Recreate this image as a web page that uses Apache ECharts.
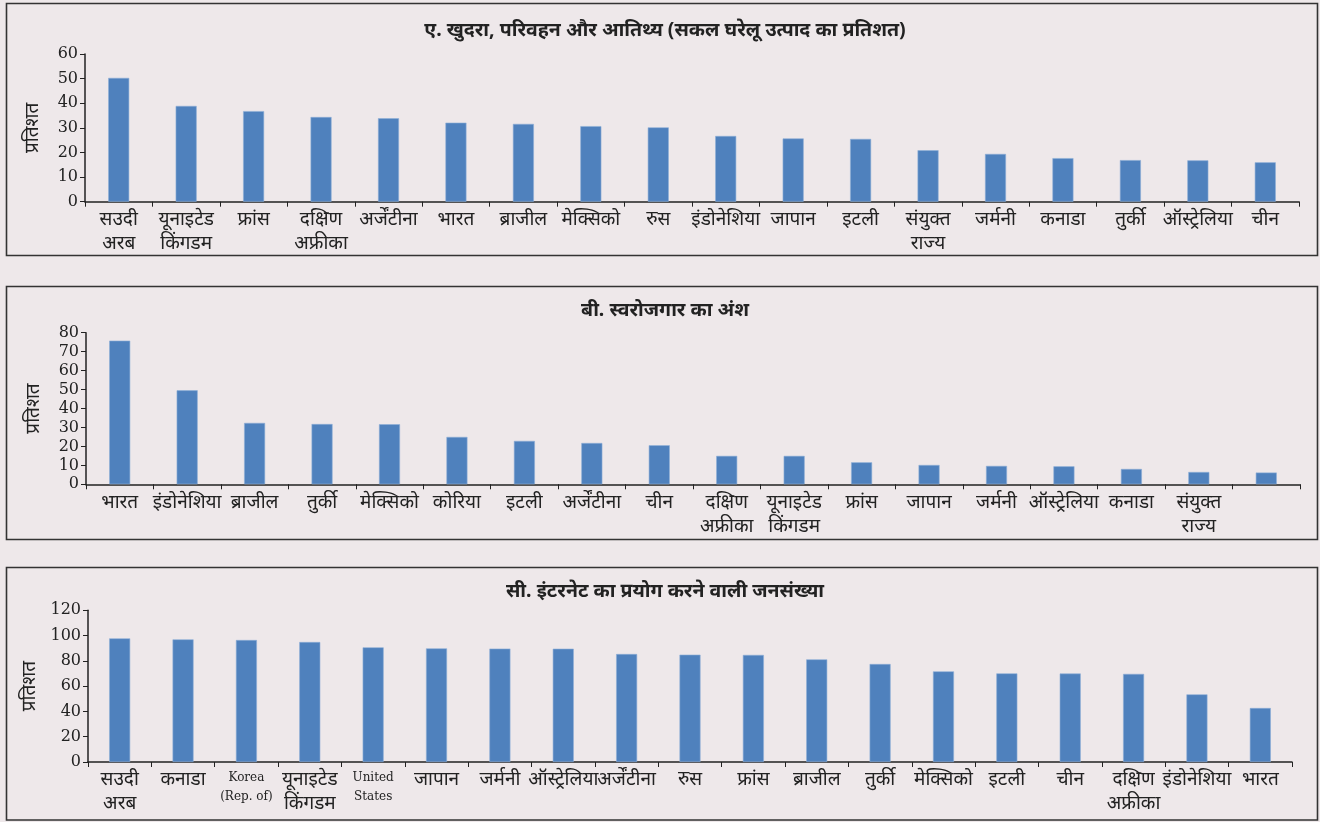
<!DOCTYPE html>
<html>
<head>
<meta charset="utf-8">
<script src="https://cdn.jsdelivr.net/npm/echarts@6/dist/echarts.min.js"></script>
<style>
  html, body { margin: 0; padding: 0; background: #EEE8EA; }
  #chart { width: 1320px; height: 822px; }
</style>
</head>
<body>
<div id="chart"></div>
<script>
// Panel A: retail, transport and hospitality (% of GDP)
const titleA = 'ए. खुदरा, परिवहन और आतिथ्य (सकल घरेलू उत्पाद का प्रतिशत)';
const countriesA = ['सउदी\nअरब', 'यूनाइटेड\nकिंगडम', 'फ्रांस', 'दक्षिण\nअफ्रीका', 'अर्जेंटीना', 'भारत', 'ब्राजील', 'मेक्सिको', 'रुस',
  'इंडोनेशिया', 'जापान', 'इटली', 'संयुक्त\nराज्य', 'जर्मनी', 'कनाडा', 'तुर्की', 'ऑस्ट्रेलिया', 'चीन'];
const valuesA = [50.3, 38.9, 36.8, 34.4, 33.9, 32.1, 31.6, 30.7, 30.2, 26.7, 25.7, 25.5, 20.9, 19.4, 17.7, 16.9, 16.8, 16.0];

// Panel B: share of self-employment
const titleB = 'बी. स्वरोजगार का अंश';
const countriesB = ['भारत', 'इंडोनेशिया', 'ब्राजील', 'तुर्की', 'मेक्सिको', 'कोरिया', 'इटली', 'अर्जेंटीना', 'चीन',
  'दक्षिण\nअफ्रीका', 'यूनाइटेड\nकिंगडम', 'फ्रांस', 'जापान', 'जर्मनी', 'ऑस्ट्रेलिया', 'कनाडा', 'संयुक्त\nराज्य', ''];
const valuesB = [75.8, 49.6, 32.4, 31.8, 31.7, 25.0, 22.9, 21.8, 20.6, 15.0, 15.0, 11.6, 10.2, 9.7, 9.5, 8.1, 6.5, 6.2];

// Panel C: population using the internet
const titleC = 'सी. इंटरनेट का प्रयोग करने वाली जनसंख्या';
const countriesC = ['सउदी\nअरब', 'कनाडा', 'Korea\n(Rep. of)', 'यूनाइटेड\nकिंगडम', 'United\nStates', 'जापान', 'जर्मनी', 'ऑस्ट्रेलिया',
  'अर्जेंटीना', 'रुस', 'फ्रांस', 'ब्राजील', 'तुर्की', 'मेक्सिको', 'इटली', 'चीन', 'दक्षिण\nअफ्रीका', 'इंडोनेशिया', 'भारत'];
const valuesC = [97.8, 97.0, 96.5, 94.9, 90.7, 89.9, 89.7, 89.6, 85.4, 84.9, 84.7, 81.2, 77.5, 71.7, 70.1, 70.0, 69.7, 53.5, 42.7];

// Y-axis scales and label
const yMaxA = 60, yStepA = 10;
const yMaxB = 80, yStepB = 10;
const yMaxC = 120, yStepC = 20;
const yName = 'प्रतिशत';

const BAR = '#4F81BD';
const INK = '#222222';
const SERIF = '"DejaVu Serif", "Liberation Serif", serif';
const DEVA = '"Noto Sans", "Noto Sans Devanagari", "Lohit Devanagari", sans-serif';

const chart = echarts.init(document.getElementById('chart'), null, { renderer: 'canvas' });

function xAxisFor(idx, cats) {
  return {
    type: 'category', gridIndex: idx, data: cats,
    axisLine: { lineStyle: { color: INK, width: 1.5 } },
    axisTick: { show: true, alignWithLabel: false, length: 5, lineStyle: { color: INK } },
    axisLabel: {
      interval: 0, margin: 6, color: INK, fontFamily: DEVA, fontSize: 19, lineHeight: 24,
      formatter: v => (/^[A-Za-z]/.test(v) ? '{en|' + v.split('\n').join('}\n{en|') + '}' : v),
      rich: { en: { fontFamily: SERIF, fontSize: 12, lineHeight: 19, color: INK } }
    },
    splitLine: { show: false }
  };
}
function yAxisFor(idx, max, step) {
  return {
    type: 'value', gridIndex: idx, min: 0, max: max, interval: step,
    name: yName, nameLocation: 'middle', nameGap: 43, nameRotate: 90,
    nameTextStyle: { color: INK, fontFamily: DEVA, fontSize: 19 },
    axisLine: { show: true, lineStyle: { color: INK, width: 1.5 } },
    axisTick: { show: true, length: 5, lineStyle: { color: INK } },
    axisLabel: { color: INK, fontFamily: SERIF, fontSize: 16, margin: 7 },
    splitLine: { show: false }
  };
}
function barsFor(idx, vals) {
  return {
    type: 'bar', xAxisIndex: idx, yAxisIndex: idx, data: vals, barWidth: 21,
    itemStyle: { color: BAR, borderColor: '#8DAED6', borderWidth: 0.6 },
    silent: true
  };
}
const titleStyle = { color: INK, fontFamily: DEVA, fontSize: 19.5, fontWeight: 'bold' };

chart.setOption({
  animation: false,
  backgroundColor: '#EEE8EA',
  title: [
    { text: titleA, left: 660, textAlign: 'center', top: 15, textStyle: titleStyle },
    { text: titleB, left: 660, textAlign: 'center', top: 295, textStyle: titleStyle },
    { text: titleC, left: 660, textAlign: 'center', top: 576, textStyle: titleStyle }
  ],
  graphic: [
    { type: 'rect', shape: { x: 6.5, y: 3.5, width: 1311, height: 252 }, style: { fill: 'none', stroke: '#333', lineWidth: 1.6 }, silent: true },
    { type: 'rect', shape: { x: 6.5, y: 286.5, width: 1311, height: 253 }, style: { fill: 'none', stroke: '#333', lineWidth: 1.6 }, silent: true },
    { type: 'rect', shape: { x: 6.5, y: 567.5, width: 1311, height: 252.5 }, style: { fill: 'none', stroke: '#333', lineWidth: 1.6 }, silent: true }
  ],
  grid: [
    { left: 85, right: 21, top: 54, height: 147.7 },
    { left: 86, right: 20, top: 332.7, height: 151.6 },
    { left: 88, right: 28, top: 610.3, height: 151.7 }
  ],
  xAxis: [xAxisFor(0, countriesA), xAxisFor(1, countriesB), xAxisFor(2, countriesC)],
  yAxis: [yAxisFor(0, yMaxA, yStepA), yAxisFor(1, yMaxB, yStepB), yAxisFor(2, yMaxC, yStepC)],
  series: [barsFor(0, valuesA), barsFor(1, valuesB), barsFor(2, valuesC)]
});
</script>
</body>
</html>
